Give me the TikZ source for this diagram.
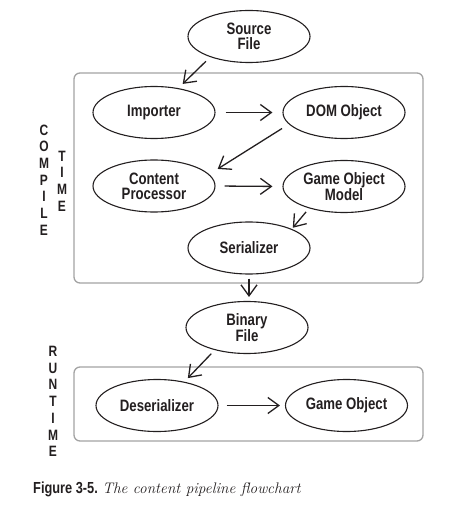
\documentclass[tikz,border=0pt]{standalone}
\usepackage{fontspec}
\newfontfamily\cond{Liberation Sans}[FakeStretch=0.8]
\usetikzlibrary{shapes.geometric,arrows.meta}
\definecolor{ink}{HTML}{231F20}
\definecolor{boxgray}{HTML}{A3A3A3}
\tikzset{
  stage/.style={ellipse, draw=ink, line width=1.1pt, minimum width=122pt, minimum height=52pt,
    inner sep=0pt, align=center, text=ink, font=\cond\bfseries\fontsize{16.5}{15}\selectfont},
  group/.style={draw=boxgray, line width=1.3pt, rounded corners=6pt},
  arr/.style={draw=ink, line width=1.3pt, -{Straight Barb[length=11pt,width=16pt,line width=1.3pt]}},
  sidelabel/.style={align=center, text=ink, inner sep=0pt, font=\cond\bfseries\fontsize{15}{16.7}\selectfont}
}
\begin{document}
\begin{tikzpicture}[x=1pt,y=-1pt]
\useasboundingbox (0,0) rectangle (465,510);
\draw[group] (74,73) rectangle (423,283);
\draw[group] (74,367) rectangle (423,441);
\node[stage] (src) at (249,36.5) {Source\\File};
\node[stage] (imp) at (154,112.5) {Importer};
\node[stage] (dom) at (344,112.5) {DOM Object};
\node[stage] (cp) at (154,186) {Content\\Processor};
\node[stage] (gom) at (344,186.5) {Game Object\\Model};
\node[stage] (ser) at (249,248) {Serializer};
\node[stage] (bin) at (247,327.5) {Binary\\File};
\node[stage] (des) at (157,405.5) {Deserializer};
\node[stage] (go) at (346.5,405.5) {Game Object};
\node[sidelabel] (ct1) at (44,180) {C\\O\\M\\P\\I\\L\\E};
\node[sidelabel] (ct2) at (62,181) {T\\I\\M\\E};
\node[sidelabel] (rt) at (53,401.5) {R\\U\\N\\T\\I\\M\\E};
\node[anchor=base west, inner sep=0pt, text=ink] (cap) at (33,493)
  {{\cond\bfseries\fontsize{16}{18}\selectfont Figure 3-5.} {\itshape\fontsize{15.3}{18}\selectfont The content pipeline flowchart}};
\draw[arr, shorten <=6pt, shorten >=6pt] (src.208) -- (imp.45);
\draw[arr, shorten <=10pt, shorten >=10pt] (imp.east) -- (dom.west);
\draw[arr, shorten <=8pt, shorten >=10pt] (dom.192) -- (cp.12);
\draw[arr, shorten <=9pt, shorten >=10pt] (cp.east) -- (gom.west);
\draw[arr, shorten <=4.6pt, shorten >=1.5pt] (gom.212.6) -- (ser.24);
\draw[arr, shorten <=4pt, shorten >=4pt] (ser.south) -- (ser.south |- bin.north);
\draw[arr, shorten <=5pt, shorten >=5pt] (bin.215.3) -- (des.41.4);
\draw[arr, shorten <=8pt, shorten >=5pt] (des.east) -- (go.west);
\end{tikzpicture}
\end{document}
